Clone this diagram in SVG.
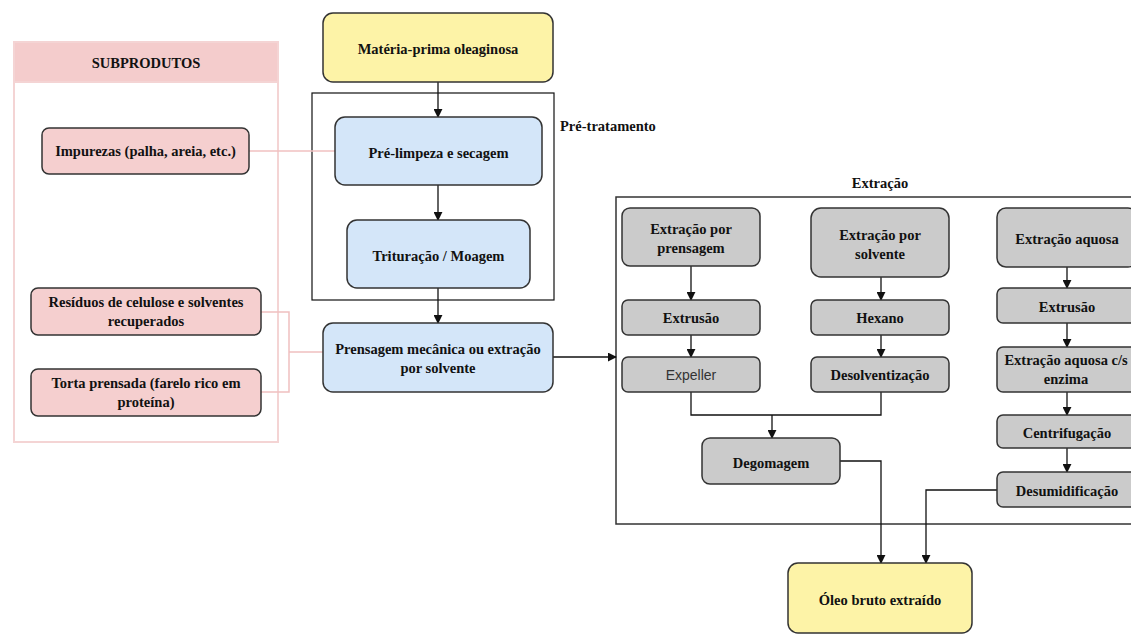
<svg xmlns="http://www.w3.org/2000/svg" width="1131" height="640" viewBox="0 0 1131 640">
<defs>
<marker id="ah" viewBox="0 0 10 10" refX="9" refY="5" markerWidth="9" markerHeight="9" orient="auto" markerUnits="userSpaceOnUse">
<path d="M0,0 L10,5 L0,10 z" fill="#111"/>
</marker>
<style>
text{font-family:"Liberation Serif","Times New Roman",serif;font-weight:bold;font-size:14.5px;fill:#111;text-anchor:middle;dominant-baseline:central}
.sans{font-family:"Liberation Sans",Arial,sans-serif;font-weight:normal;fill:#333;font-size:14px}
.n rect{stroke:#333;stroke-width:1.5}
.yel{fill:#fdf3a7}
.blue{fill:#d4e6f9}
.gray{fill:#cbcbcb}
.pink{fill:#f5cfcf}
.edge{fill:none;stroke:#111;stroke-width:1.3}
.pedge{fill:none;stroke:#f0c0c0;stroke-width:1.5}
</style>
</defs>
<rect width="1131" height="640" fill="#fff"/>

<g id="subprodutos">
<rect x="14" y="42" width="264" height="400" fill="#fff" stroke="#f4d4d4" stroke-width="2"/>
<rect x="14" y="42" width="264" height="40" fill="#f4cccc" stroke="#f4d4d4" stroke-width="2"/>
<text x="146" y="63">SUBPRODUTOS</text>
</g>
<g id="pretratamento">
<rect x="312" y="93" width="242" height="207" fill="none" stroke="#111" stroke-width="1.2"/>
<text x="560" y="126" style="text-anchor:start">Pré-tratamento</text>
</g>
<g id="extracao">
<rect x="616" y="197" width="530" height="327" fill="none" stroke="#333" stroke-width="1.5"/>
<text x="880" y="183">Extração</text>
</g>

<g id="connectors">
<path class="pedge" d="M249,151 H335"/>
<path class="pedge" d="M261,312 H289 V392 H261 M289,352 H323"/>
<path class="edge" d="M438,82 V117" marker-end="url(#ah)"/>
<path class="edge" d="M438,185 V220" marker-end="url(#ah)"/>
<path class="edge" d="M438,288 V323" marker-end="url(#ah)"/>
<path class="edge" d="M553,357 H616" marker-end="url(#ah)"/>
<path class="edge" d="M691,266 V300" marker-end="url(#ah)"/>
<path class="edge" d="M691,335 V357" marker-end="url(#ah)"/>
<path class="edge" d="M881,277 V300" marker-end="url(#ah)"/>
<path class="edge" d="M881,335 V357" marker-end="url(#ah)"/>
<path class="edge" d="M691,392 V415 H881 V392"/>
<path class="edge" d="M772,415 V438" marker-end="url(#ah)"/>
<path class="edge" d="M840,461 H881 V563" marker-end="url(#ah)"/>
<path class="edge" d="M997,490 H926 V563" marker-end="url(#ah)"/>
<path class="edge" d="M1067,267 V288" marker-end="url(#ah)"/>
<path class="edge" d="M1067,323 V347" marker-end="url(#ah)"/>
<path class="edge" d="M1067,392 V415" marker-end="url(#ah)"/>
<path class="edge" d="M1067,448 V472" marker-end="url(#ah)"/>
</g>

<g id="impurezas" class="n"><rect class="pink" x="42" y="128" width="207" height="46" rx="7"/><text x="145.5" y="151">Impurezas (palha, areia, etc.)</text></g>
<g id="residuos" class="n"><rect class="pink" x="31" y="288" width="230" height="47" rx="7"/><text x="146" y="302">Resíduos de celulose e solventes</text><text x="146" y="321">recuperados</text></g>
<g id="torta" class="n"><rect class="pink" x="31" y="369" width="230" height="47" rx="7"/><text x="146" y="383">Torta prensada (farelo rico em</text><text x="146" y="402">proteína)</text></g>

<g id="materia" class="n"><rect class="yel" x="323" y="13" width="230" height="69" rx="10"/><text x="438" y="49">Matéria-prima oleaginosa</text></g>
<g id="prelimpeza" class="n"><rect class="blue" x="335" y="117" width="207" height="68" rx="10"/><text x="438.5" y="153">Pré-limpeza e secagem</text></g>
<g id="trituracao" class="n"><rect class="blue" x="347" y="220" width="183" height="68" rx="10"/><text x="438.5" y="256">Trituração / Moagem</text></g>
<g id="prensagem" class="n"><rect class="blue" x="323" y="323" width="230" height="69" rx="10"/><text x="438" y="349">Prensagem mecânica ou extração</text><text x="438" y="368">por solvente</text></g>

<g id="ext-prensagem" class="n"><rect class="gray" x="622" y="208" width="138" height="58" rx="8"/><text x="691" y="229">Extração por</text><text x="691" y="248">prensagem</text></g>
<g id="extrusao1" class="n"><rect class="gray" x="622" y="300" width="138" height="35" rx="6"/><text x="691" y="318">Extrusão</text></g>
<g id="expeller" class="n"><rect class="gray" x="622" y="357" width="138" height="35" rx="6"/><text class="sans" x="691" y="375">Expeller</text></g>
<g id="ext-solvente" class="n"><rect class="gray" x="811" y="208" width="138" height="69" rx="10"/><text x="880" y="235">Extração por</text><text x="880" y="254">solvente</text></g>
<g id="hexano" class="n"><rect class="gray" x="811" y="300" width="138" height="35" rx="6"/><text x="880" y="318">Hexano</text></g>
<g id="desolv" class="n"><rect class="gray" x="811" y="357" width="138" height="35" rx="6"/><text x="880" y="375">Desolventização</text></g>
<g id="degomagem" class="n"><rect class="gray" x="702" y="438" width="138" height="46" rx="8"/><text x="771" y="463">Degomagem</text></g>
<g id="ext-aquosa" class="n"><rect class="gray" x="997" y="208" width="140" height="59" rx="9"/><text x="1067" y="239">Extração aquosa</text></g>
<g id="extrusao2" class="n"><rect class="gray" x="997" y="288" width="140" height="35" rx="6"/><text x="1067" y="307">Extrusão</text></g>
<g id="enzima" class="n"><rect class="gray" x="997" y="347" width="140" height="45" rx="6"/><text x="1066" y="360">Extração aquosa c/s</text><text x="1066" y="379">enzima</text></g>
<g id="centrif" class="n"><rect class="gray" x="997" y="415" width="140" height="33" rx="6"/><text x="1067" y="433">Centrifugação</text></g>
<g id="desumid" class="n"><rect class="gray" x="997" y="472" width="140" height="35" rx="6"/><text x="1067" y="491">Desumidificação</text></g>
<g id="oleo" class="n"><rect class="yel" x="788" y="563" width="184" height="70" rx="10"/><text x="880" y="600">Óleo bruto extraído</text></g>
</svg>
